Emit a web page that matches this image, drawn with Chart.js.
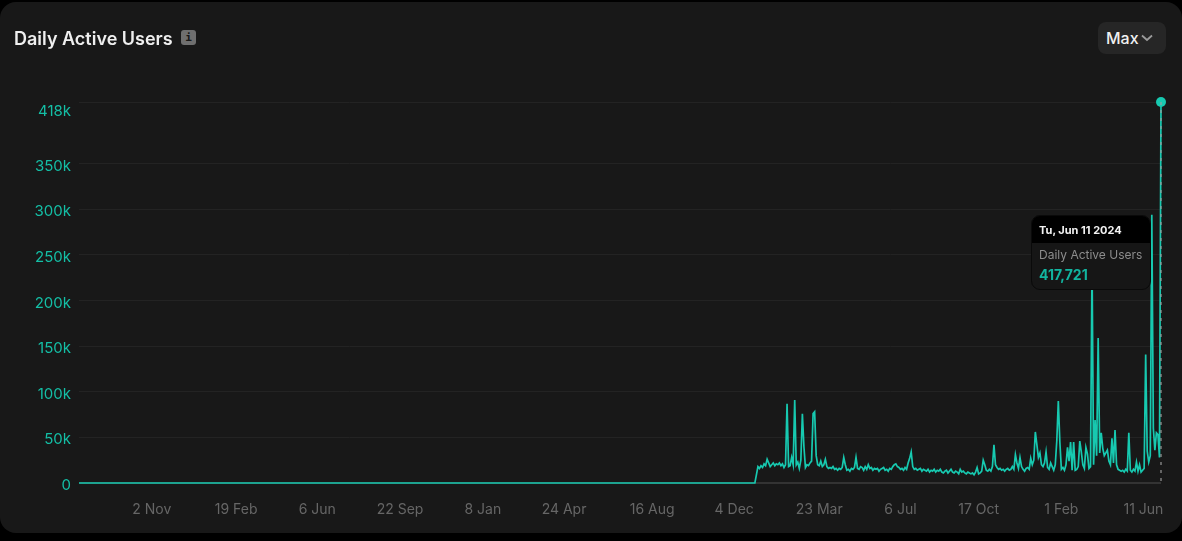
<!DOCTYPE html>
<html>
<head>
    <title>Daily Active Users</title>
    <script src="https://cdn.jsdelivr.net/npm/chart.js"></script>
    <style>
        html, body { margin: 0; background: #000; overflow: hidden; }
        body { width: 1182px; height: 541px; position: relative; font-family: Inter, sans-serif; }
        #card { position: absolute; left: 0; top: 2px; width: 1182px; height: 531px; background: #181818; border-radius: 16px; }
        #myChart { position: absolute; left: 0; top: 0; }
        #title { position: absolute; left: 14px; top: 28px; font-size: 18px; line-height: 22px; font-weight: 600; color: #efefef; }
        #info { position: absolute; left: 181px; top: 30px; width: 15px; height: 15px; border-radius: 3px; background: #6f6f6f; color: #181818; font: bold 11px/15px "DejaVu Sans Mono", monospace; text-align: center; }
        #range { position: absolute; left: 1098px; top: 22px; width: 68px; height: 32px; border-radius: 8px; background: #262626; color: #f0f0f0; font-size: 16px; line-height: 32px; font-weight: 500; text-indent: 8px; }
        #range svg { position: absolute; left: 42px; top: 12px; }
        #tip { position: absolute; left: 1031px; top: 215px; width: 120px; height: 75px; box-sizing: border-box; border: 1px solid #0a0a0a; border-radius: 9px; background: #161616; overflow: hidden; }
        #tipHead { height: 27px; background: #000; color: #f2f2f2; font-size: 11px; font-weight: 700; line-height: 28px; padding-left: 7px; }
        #tipName { margin: 5px 0 0 7px; font-size: 12px; line-height: 14px; color: #8c8c8c; white-space: nowrap; }
        #tipValue { margin: 4px 0 0 7px; font-size: 14px; line-height: 17px; font-weight: 700; color: #12b5a0; }
    </style>
</head>
<body>
    <div id="card"></div>
    <canvas id="myChart" width="1182" height="541"></canvas>
    <div id="title">Daily Active Users</div>
    <div id="info">i</div>
    <div id="range">Max<svg width="14" height="8" viewBox="0 0 14 8"><path d="M2 1.5 L7 6 L12 1.5" fill="none" stroke="#9a9a9a" stroke-width="1.8"/></svg></div>
    <div id="tip">
        <div id="tipHead">Tu, Jun 11 2024</div>
        <div id="tipName">Daily Active Users</div>
        <div id="tipValue">417,721</div>
    </div>
    <script>
        // Flat part before launch, x is days since the first record
        const zeroDays = [0, 880];
        const zeroUsers = [0, 0];

        // After launch, one reading every 2 days, in thousands of users
        const firstDay = 882;
        const dayStep = 2;
        const usersK = [
            0, 9, 18, 16, 19, 17, 21, 19, 26, 22,
            18, 20, 22, 19, 21, 20, 22, 19, 21, 17,
            20, 87, 18, 19, 28, 20, 91, 20, 23, 16,
            25, 76, 40, 17, 20, 19, 22, 24, 76, 78,
            30, 20, 19, 24, 18, 20, 26, 18, 16, 17,
            16, 18, 15, 16, 14, 16, 15, 17, 28, 20,
            14, 15, 13, 16, 15, 17, 28, 16, 15, 18,
            17, 14, 18, 15, 20, 16, 17, 14, 16, 15,
            16, 13, 15, 16, 17, 14, 15, 13, 16, 15,
            18, 20, 21, 18, 17, 15, 16, 14, 17, 15,
            22, 27, 34, 18, 15, 16, 14, 15, 16, 13,
            15, 14, 13, 15, 12, 14, 13, 15, 12, 14,
            13, 15, 12, 11, 13, 14, 11, 13, 15, 12,
            11, 13, 12, 10, 15, 12, 13, 11, 10, 12,
            11, 10, 11, 9, 12, 17, 10, 11, 13, 25,
            20, 14, 13, 15, 13, 18, 42, 20, 17, 15,
            16, 14, 15, 13, 15, 16, 14, 15, 18, 15,
            31, 22, 16, 28, 18, 15, 13, 16, 17, 15,
            27, 20, 25, 56, 42, 28, 33, 20, 18, 22,
            34, 17, 15, 22, 18, 14, 20, 46, 90, 45,
            15, 17, 14, 20, 39, 24, 45, 14, 45, 14,
            15, 18, 46, 34, 20, 16, 39, 32, 16, 18,
            240, 20, 69, 30, 159, 33, 55, 38, 30, 33,
            36, 24, 20, 49, 22, 58, 20, 15, 14, 13,
            14, 12, 15, 13, 55, 14, 12, 15, 13, 23,
            13, 20, 12, 14, 16, 141, 35, 23, 30, 294,
            60, 36, 55, 53, 28, 417.721
        ];

        // Axis ticks
        const xTickDays = [95, 205, 311, 419, 527, 633, 748, 855, 966, 1072, 1174, 1282, 1389];
        const xTickLabels = ['2 Nov', '19 Feb', '6 Jun', '22 Sep', '8 Jan', '24 Apr', '16 Aug', '4 Dec', '23 Mar', '6 Jul', '17 Oct', '1 Feb', '11 Jun'];
        const yTicks = [0, 50, 100, 150, 200, 250, 300, 350, 417.721];

        const teal = '#17c9b0';
        const lastDay = firstDay + dayStep * (usersK.length - 1);
        const points = zeroDays.map((d, i) => ({ x: d, y: zeroUsers[i] }))
            .concat(usersK.map((v, i) => ({ x: firstDay + dayStep * i, y: v })));

        // dashed hover line over the last point
        const cursorLine = {
            id: 'cursorLine',
            afterDatasetsDraw(chart) {
                const { ctx, chartArea, scales } = chart;
                const x = scales.x.getPixelForValue(lastDay);
                ctx.save();
                ctx.strokeStyle = 'rgba(160,160,160,0.75)';
                ctx.lineWidth = 1.5;
                ctx.setLineDash([3, 5]);
                ctx.beginPath();
                ctx.moveTo(x, chartArea.top);
                ctx.lineTo(x, chartArea.bottom);
                ctx.stroke();
                ctx.restore();
            }
        };

        const ctx = document.getElementById('myChart').getContext('2d');
        new Chart(ctx, {
            type: 'line',
            data: {
                datasets: [{
                    label: 'Daily Active Users',
                    data: points,
                    borderColor: teal,
                    backgroundColor: teal,
                    borderWidth: 1.7,
                    tension: 0,
                    clip: false,
                    pointBorderWidth: 0,
                    pointRadius: c => c.dataIndex === points.length - 1 ? 5 : 0
                }]
            },
            plugins: [cursorLine],
            options: {
                responsive: false,
                animation: false,
                devicePixelRatio: 1,
                layout: { padding: { top: 102, right: 21, left: 0, bottom: 0 } },
                plugins: { legend: { display: false }, tooltip: { enabled: false } },
                scales: {
                    x: {
                        type: 'linear',
                        min: 0,
                        max: lastDay,
                        afterFit: s => { s.height = 58; },
                        afterBuildTicks: s => { s.ticks = xTickDays.map(v => ({ value: v })); },
                        grid: { display: false },
                        border: { display: false },
                        ticks: {
                            autoSkip: false,
                            maxRotation: 0,
                            padding: 10,
                            color: '#666666',
                            font: { family: 'Inter', size: 14 },
                            callback: (v, i) => xTickLabels[i]
                        }
                    },
                    y: {
                        min: 0,
                        max: 417.721,
                        afterFit: s => { s.width = 79; },
                        afterBuildTicks: s => { s.ticks = yTicks.map(v => ({ value: v })); },
                        border: { display: false },
                        grid: {
                            tickLength: 0,
                            color: c => c.tick && c.tick.value === 0 ? '#333333' : '#232323',
                            lineWidth: c => c.tick && c.tick.value === 0 ? 2 : 1
                        },
                        ticks: {
                            autoSkip: false,
                            padding: 8,
                            labelOffset: 2.5,
                            color: '#14bfa6',
                            font: { family: 'Inter', size: 15, lineHeight: '14px' },
                            // top label sits a bit lower than its grid line
                            callback: v => v === 0 ? '0' : v > 400 ? ['', Math.round(v) + 'k'] : v + 'k'
                        }
                    }
                }
            }
        });
    </script>
</body>
</html>
